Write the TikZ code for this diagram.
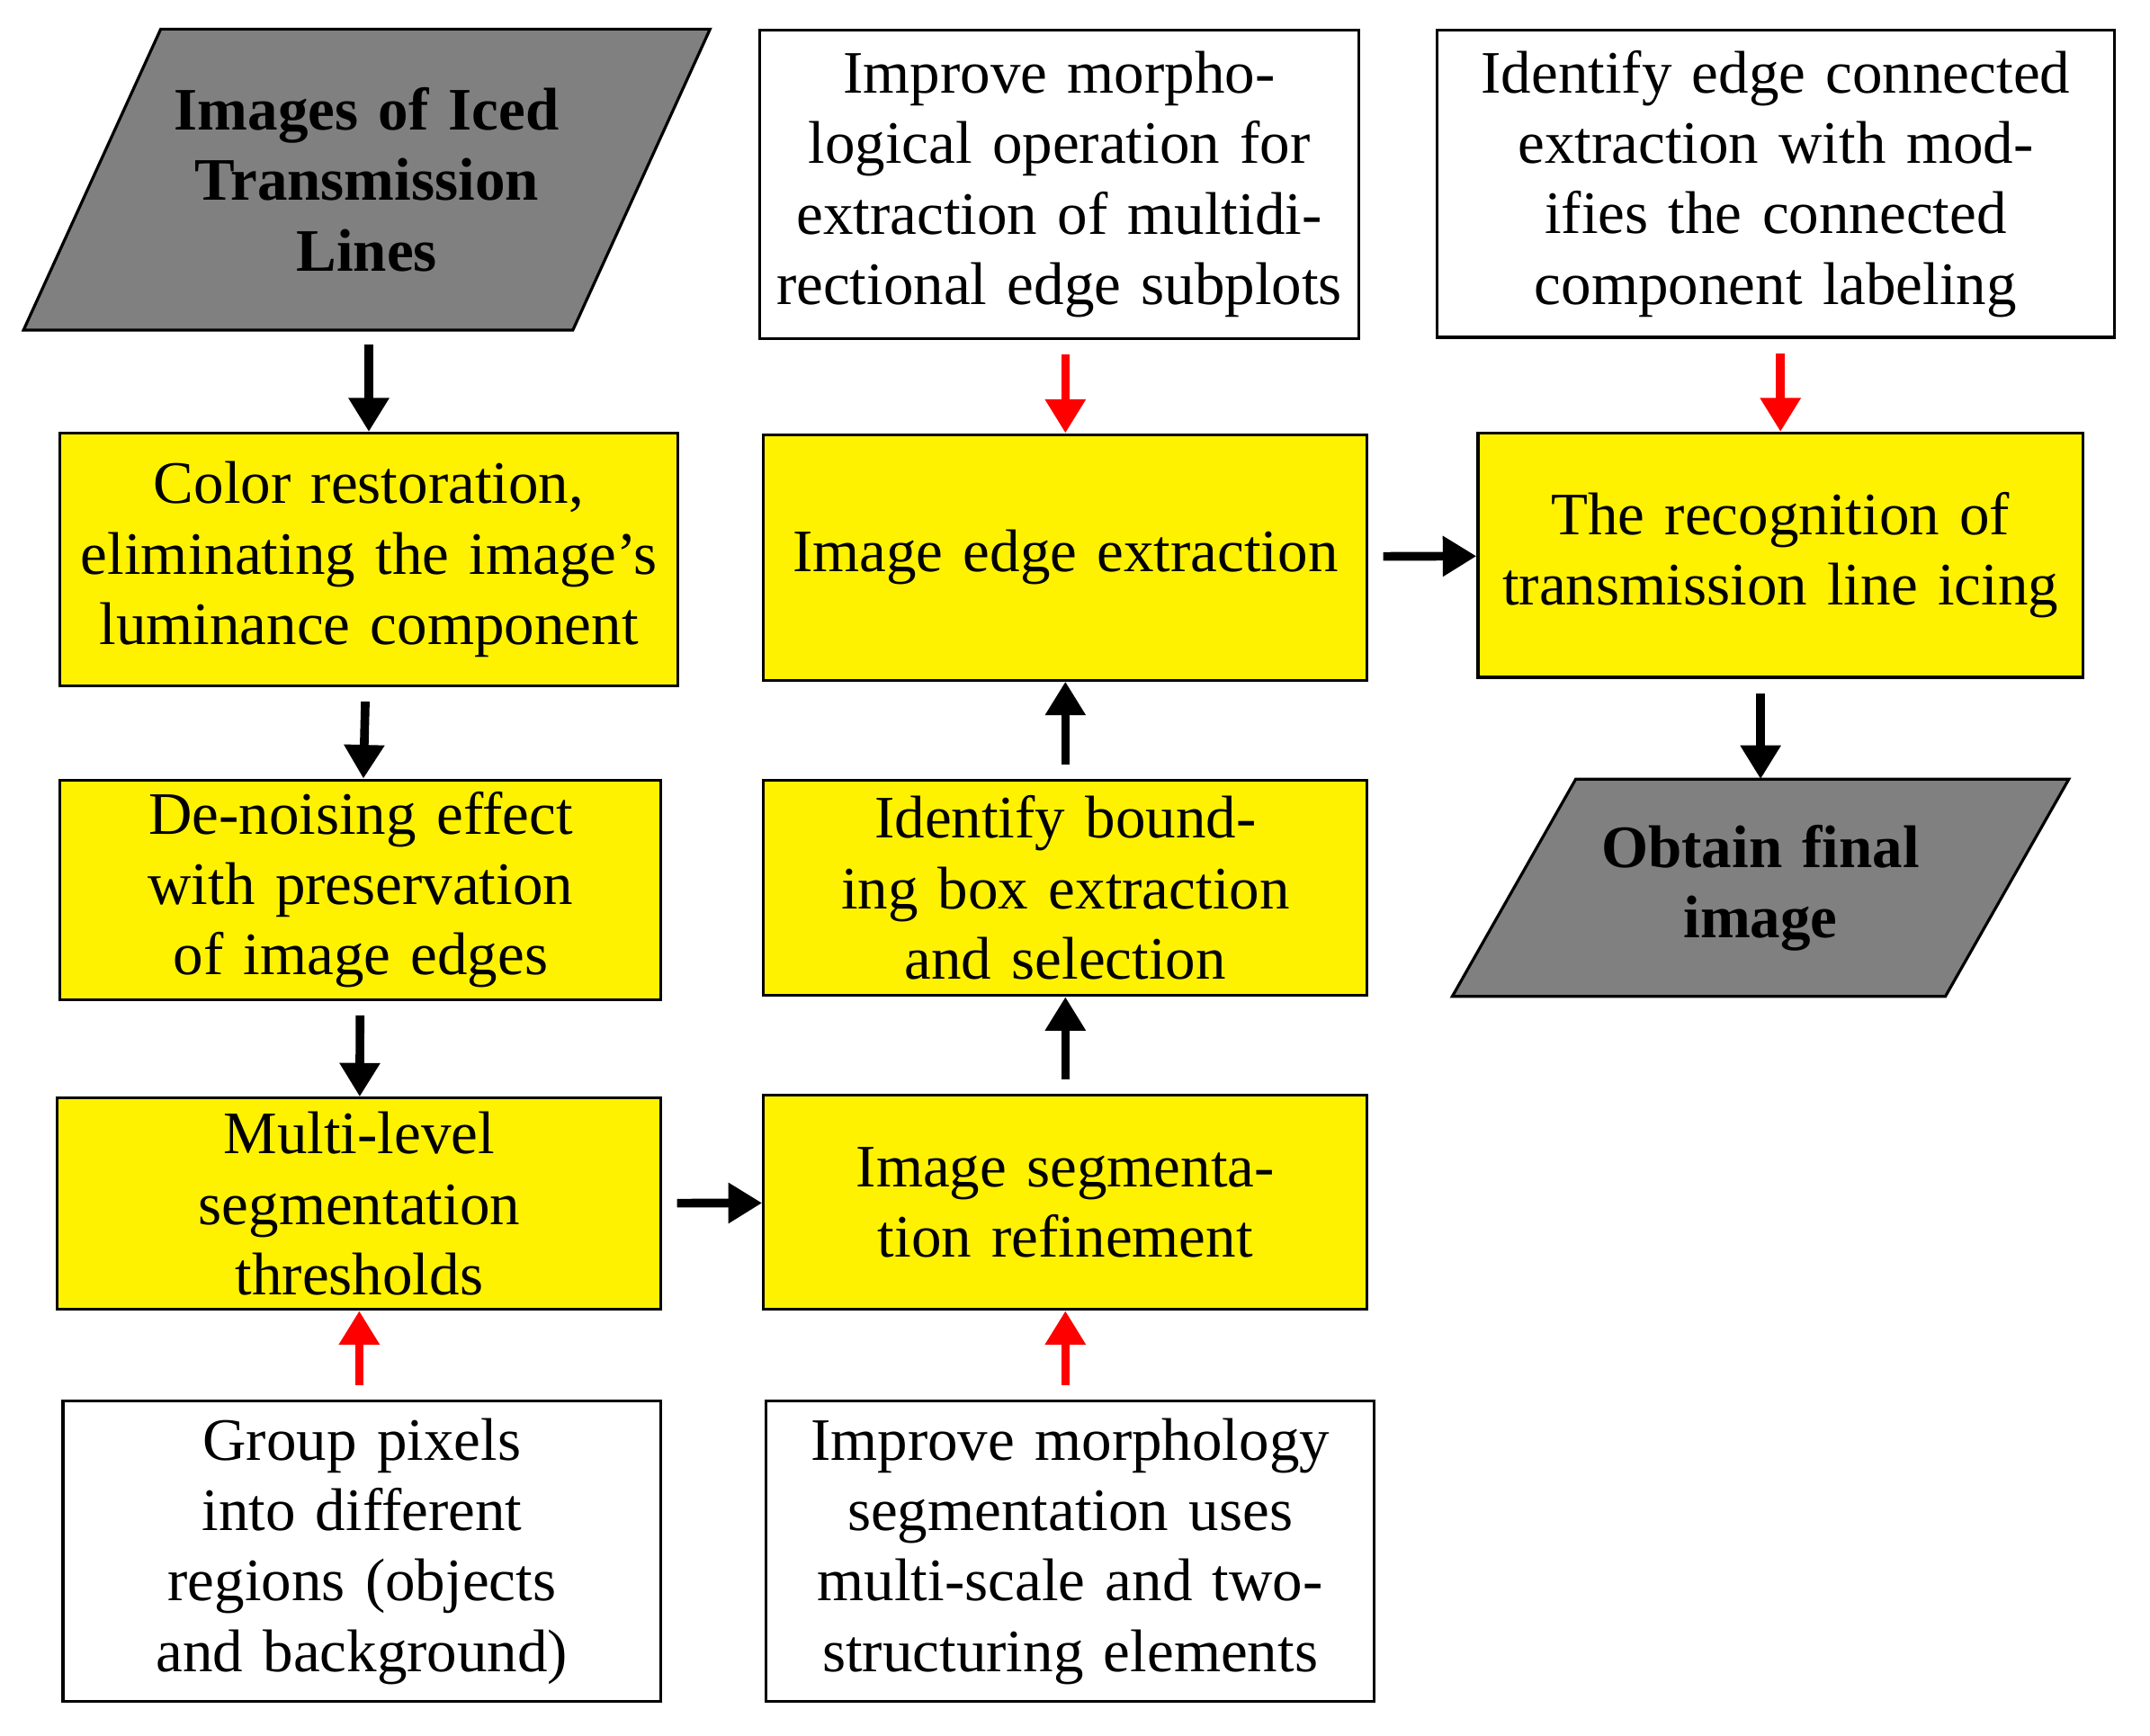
\documentclass[tikz,border=0pt]{standalone}
\usepackage{fontspec}
\setmainfont{Liberation Serif}
\usetikzlibrary{positioning, arrows.meta}

\begin{document}
\begin{tikzpicture}[x=0.01cm, y=-0.01cm,
  font=\fontsize{12.5}{14.6}\selectfont,
  proc/.style={rectangle, draw=black, line width=0.6pt, fill=yellow, align=center, inner sep=2pt},
  note/.style={rectangle, draw=black, line width=0.6pt, fill=white, align=center, inner sep=2pt},
  data/.style={align=center, inner sep=0pt, font=\fontsize{12.5}{14.6}\selectfont\bfseries},
  arrow/.style={-{Triangle[length=7pt,width=8pt]}, line width=1.8pt, black, shorten <=3pt},
  redarrow/.style={arrow, red}
]
\useasboundingbox (0,0) rectangle (1568,1266);

% input and output data
\node[data, minimum width=4.99cm, minimum height=2.18cm] (input) at (267.5,131) {};
\draw[fill=gray, line width=0.6pt] ([xshift=1cm]input.north west) -- (input.north east) -- ([xshift=-1cm]input.south east) -- (input.south west) -- cycle;
\node[data, text width=3.2cm] at (input) {Images of Iced\\Transmission\\Lines};

\node[data, minimum width=4.48cm, minimum height=1.57cm] (obtain) at (1284,647.5) {};
\draw[fill=gray, line width=0.6pt] ([xshift=0.9cm]obtain.north west) -- (obtain.north east) -- ([xshift=-0.9cm]obtain.south east) -- (obtain.south west) -- cycle;
\node[data, text width=3cm] at (obtain) {Obtain final\\image};

% notes
\node[note, minimum width=4.37cm, minimum height=2.25cm, text width=4.2cm] (morphop) at (772.5,134.5) {Improve morphological operation for extraction of multidirectional edge subplots};
\node[note, minimum width=4.94cm, minimum height=2.24cm, text width=4.7cm] (ccl) at (1295,134) {Identify edge connected extraction with modifies the connected component labeling};
\node[note, minimum width=4.36cm, minimum height=2.19cm, text width=3.4cm] (group) at (264,1131.5) {Group pixels into different regions (objects and background)};
\node[note, minimum width=4.43cm, minimum height=2.19cm, text width=4.0cm] (morphseg) at (780.5,1131.5) {Improve morphology segmentation uses multi-scale and two-structuring elements};

% processing steps
\node[proc, minimum width=4.50cm, minimum height=1.84cm, text width=4.3cm] (color) at (269,408) {Color restoration, eliminating the image's luminance component};
\node[proc, minimum width=4.38cm, minimum height=1.60cm, text width=4.1cm] (denoise) at (263,649) {De-noising effect with preservation of image edges};
\node[proc, minimum width=4.40cm, minimum height=1.54cm, text width=3.2cm] (multi) at (262,878) {Multi-level segmentation thresholds};
\node[proc, minimum width=4.40cm, minimum height=1.56cm, text width=4.0cm] (refine) at (777,877) {Image segmentation refinement};
\node[proc, minimum width=4.40cm, minimum height=1.57cm, text width=4.2cm] (bbox) at (777,647.5) {Identify bounding box extraction and selection};
\node[proc, minimum width=4.40cm, minimum height=1.79cm, text width=4.2cm] (edge) at (777,406.5) {Image edge extraction};
\node[proc, minimum width=4.41cm, minimum height=1.78cm, text width=4.2cm] (recog) at (1298.5,405) {The recognition of transmission line icing};

\draw[arrow] (input.south -| color.north) -- (color.north);
\draw[arrow] (color) -- (denoise);
\draw[arrow] (denoise) -- (multi);
\draw[arrow] (multi) -- (refine);
\draw[arrow] (refine) -- (bbox);
\draw[arrow] (bbox) -- (edge);
\draw[arrow] (edge) -- (recog);
\draw[arrow] (recog.south -| obtain.north) -- (obtain.north);

\draw[redarrow] (morphop.south -| edge.north) -- (edge.north);
\draw[redarrow] (ccl.south -| recog.north) -- (recog.north);
\draw[redarrow] (group.north -| multi.south) -- (multi.south);
\draw[redarrow] (morphseg.north -| refine.south) -- (refine.south);
\end{tikzpicture}
\end{document}
